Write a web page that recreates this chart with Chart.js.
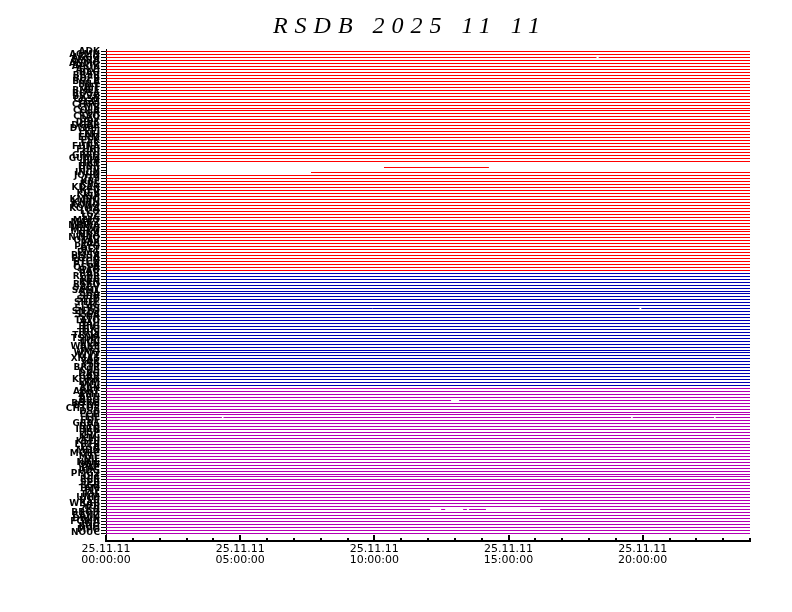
<!DOCTYPE html>
<html>
<head>
<meta charset="utf-8">
<script src="https://cdn.jsdelivr.net/npm/chart.js@4"></script>
<style>
  body { margin: 0; background: #fff; }
  #wrap { width: 792px; height: 612px; }
</style>
</head>
<body>
<div id="wrap"><canvas id="myChart"></canvas></div>
<script>
const titleText = 'RSDB 2025 11 11';
const dateLabel = '25.11.11';

// station rows, top to bottom, by colour group
const redStations = ['ADK','AGMN','AKGG','AMRA','ANMO','APOK','ARVI','BAG','BBSR','BDFB','BGCA','BILL','BJT','BMLE','BOSA','BRVK','CASY','CCM','CHTO','CMB','COLA','COR','CTAO','DAV','DBIC','DGAR','DWPF','EFI','ENH','ERM','ESK','FFC','FUNA','FURI','GNI','GRFO','GUMO','HIA','HKT','HNR','HRV','INCN','JOHN','JTS','KBL','KBS','KDAK','KEV','KIEV','KIP','KMBO','KNTN','KONO','KOWA','LCO','LSZ','LVC','MAJO','MAKZ','MBWA','MIDW','MSKU','NNA','NWAO','OTAV','PAB','PAYG','PET','PMG','PMSA','POHA','PTCN','PTGA','QSPA','RAO'];
const blueStations = ['RAR','RCBR','RES','RPN','RSSD','SACV','SAML','SBA','SDV','SFJD','SHEL','SJG','SLBS','SNZO','SSPA','SUR','TATO','TAU','TEIG','TIXI','TRIS','TRQA','TSUM','TUC','ULN','WAKE','WCI','WMQ','WVT','XMAS','YAK','YSS','BRTR','CHS','DAG','GAR','KURK','LRM','MDJ'];
const magentaStations = ['AAK','ABKT','AML','ARU','BFO','BORG','BTDF','CHTO2','DSB','ECH','EIL','FDF','GRA1','HYB','IBBN','ISP','KHC','KMI','KSDI','LBTB','LSA','MDN','MORC','MTE','NIL','NRIL','OBN','PAF','PDG','PMG2','QIZ','RER','SPB','SSB','TAM','TLY','TOL','UNM','VSU','WRAB','YOJ','ZKR','BBGH','CANZ','DRLN','FOMA','INU','KOG','MPG','NOUC'];

const groupColors = ['#ff0000', '#0000b4', '#b400b4'];

// data gaps: [row, from hour, to hour]
const gaps = [
  [2, 18.28, 18.36],
  [38, 0, 24],
  [39, 0, 10.36],
  [39, 14.27, 24],
  [40, 0, 24],
  [41, 0, 7.64],
  [87, 19.88, 19.95],
  [118, 12.86, 13.16],
  [124, 4.32, 4.38],
  [124, 19.57, 19.63],
  [124, 22.66, 22.72],
  [155, 12.08, 12.49],
  [155, 12.64, 13.31],
  [155, 13.45, 13.53],
  [155, 14.16, 16.18]
];

const dayStart = 0, dayEnd = 24;

const stations = redStations.concat(blueStations, magentaStations);
const groupOf = stations.map((s, i) =>
  i < redStations.length ? 0 : (i < redStations.length + blueStations.length ? 1 : 2));

const datasets = stations.map((name, row) => {
  const rowGaps = gaps.filter(g => g[0] === row).sort((a, b) => a[1] - b[1]);
  const pts = [];
  let cursor = dayStart;
  rowGaps.forEach(g => {
    if (g[1] > cursor) {
      pts.push({x: cursor, y: row}, {x: g[1], y: row});
    }
    pts.push({x: (g[1] + g[2]) / 2, y: null});
    cursor = g[2];
  });
  if (cursor < dayEnd) pts.push({x: cursor, y: row}, {x: dayEnd, y: row});
  return {
    label: name,
    data: pts,
    borderColor: groupColors[groupOf[row]],
    borderWidth: 1,
    pointRadius: 0,
    spanGaps: false
  };
});

// snap lines to whole pixels so they stay 1px sharp
const snapPlugin = {
  id: 'snap',
  afterDatasetsUpdate(chart) {
    chart.data.datasets.forEach((d, i) => {
      chart.getDatasetMeta(i).data.forEach(p => {
        if (!isNaN(p.y)) p.y = Math.round(p.y - 0.5) + 0.5;
      });
    });
  }
};

const titlePlugin = {
  id: 'rsdbTitle',
  afterDraw(chart) {
    const ctx = chart.ctx;
    ctx.save();
    ctx.font = 'italic 24px "Liberation Serif"';
    ctx.letterSpacing = '7px';
    ctx.fillStyle = '#000';
    ctx.textAlign = 'center';
    ctx.fillText(titleText, 410, 33);
    ctx.restore();
  }
};

// x ticks point up into the plot
const innerTicks = {
  id: 'innerTicks',
  afterDraw(chart) {
    const ctx = chart.ctx, xs = chart.scales.x;
    ctx.save();
    ctx.fillStyle = '#000';
    for (let h = dayStart; h <= dayEnd; h++) {
      const px = Math.round(xs.getPixelForValue(h));
      const len = h % 5 === 0 ? 6 : 3;
      ctx.fillRect(px - 1, xs.top - len, 2, len);
    }
    ctx.restore();
  }
};

var myChart = new Chart(document.getElementById('myChart'), {
  type: 'line',
  data: { datasets },
  plugins: [snapPlugin, titlePlugin, innerTicks],
  options: {
    animation: false,
    responsive: true,
    maintainAspectRatio: false,
    layout: { padding: { top: 49, right: 42, left: 0, bottom: 0 } },
    plugins: { legend: { display: false }, tooltip: { enabled: false }, title: { display: false } },
    scales: {
      x: {
        type: 'linear',
        min: dayStart,
        max: dayEnd,
        afterFit: s => { s.height = 71; },
        border: { display: true, color: '#000', width: 2 },
        grid: { display: false, drawTicks: false },
        ticks: {
          stepSize: 1,
          autoSkip: false,
          maxRotation: 0,
          padding: 3,
          color: '#000',
          font: { family: 'DejaVu Sans', size: 11, lineHeight: 0.95 },
          callback: v => (v % 5 === 0 && v < 24) ? [dateLabel, String(v).padStart(2, '0') + ':00:00'] : ''
        }
      },
      y: {
        type: 'linear',
        reverse: true,
        min: -1,
        max: 165.7,
        afterFit: s => { s.width = 106; },
        border: { display: true, color: '#000', width: 1 },
        grid: {
          drawOnChartArea: false,
          tickLength: 5,
          color: c => (c.tick && c.tick.value >= 0 && c.tick.value < stations.length) ? '#000' : 'rgba(0,0,0,0)'
        },
        ticks: {
          stepSize: 1,
          autoSkip: false,
          padding: 1,
          color: '#000',
          font: { family: 'DejaVu Sans', size: 9, weight: 'bold' },
          callback: v => (v >= 0 && v < stations.length && Number.isInteger(v)) ? stations[v] : ''
        }
      }
    }
  }
});
</script>
</body>
</html>
